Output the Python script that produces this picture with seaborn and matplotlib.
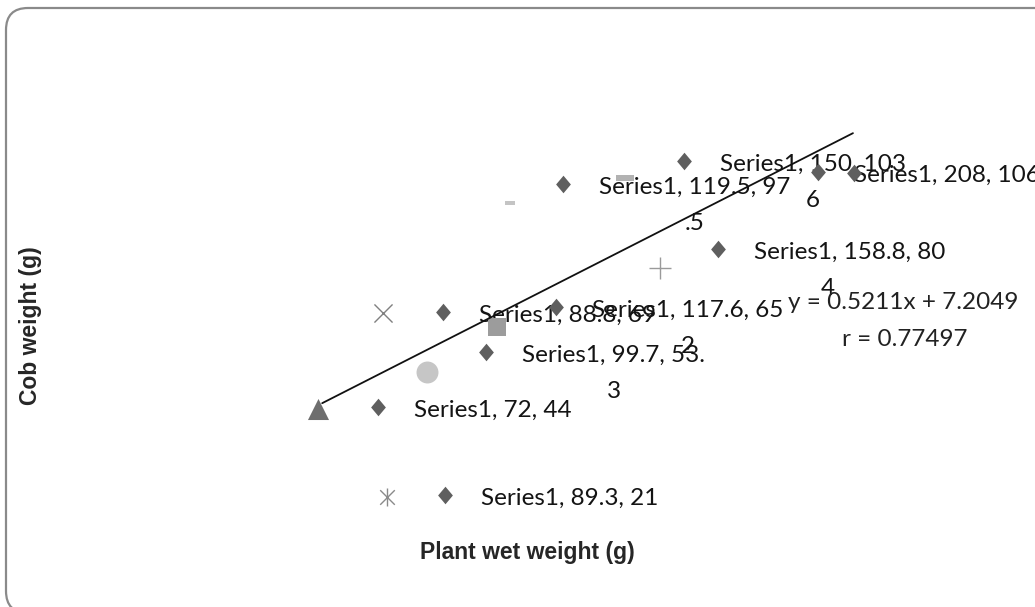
import matplotlib
matplotlib.use("Agg")
import matplotlib.pyplot as plt
import matplotlib.patches as mpatches
import matplotlib.transforms as mtrans
import pandas as pd
import seaborn as sns

# ---- data (positions, in axis units) ----
s1_x = [71.9, 89.0, 88.5, 99.5, 117.3, 119.1, 150.0, 158.7, 184.2, 193.4]
s1_y = [44.0, 21.0, 68.8, 58.4, 70.1, 102.2, 108.2, 85.3, 105.4, 105.1]
s1_labels = ["Series1, 72, 44", "Series1, 89.3, 21", "Series1, 88.8, 69",
             "Series1, 99.7, 53.\n3", "Series1, 117.6, 65\n2",
             "Series1, 119.5, 97\n.5", "Series1, 150, 103\n6",
             "Series1, 158.8, 80\n4" + " " * 7, "Series1, 208, 106", ""]

tri_x, tri_y = [56.6], [43.5]
circ_x, circ_y = [84.4], [53.1]
sq_x, sq_y = [102.3], [64.9]
xm_x, xm_y = [73.2], [68.5]
ast_x, ast_y = [74.2], [20.5]
plus_x, plus_y = [143.9], [80.3]
dash_x, dash_y = [105.6, 134.9], [97.3, 103.8]

trend_x = [57.7, 193.1]
trend_y = [45.0, 115.5]

eq_text = "y = 0.5211x + 7.2049"
r_text = "r = 0.77497"
x_label = "Plant wet weight (g)"
y_label = "Cob weight (g)"

# ---- style ----
sns.set_style("white")
plt.rcParams["font.family"] = ["Lato", "DejaVu Sans"]

fig = plt.figure(figsize=(10.35, 6.07), dpi=100)
ax = fig.add_axes([0, 0, 1, 1])
ax.set_xlim(-24.49, 239.54)
ax.set_ylim(-8.22, 150.27)
ax.set_axis_off()

# rounded chart border (right side runs off the picture)
border = mpatches.FancyBboxPatch((6, -6), 1064, 605,
                                 boxstyle="round,pad=0,rounding_size=22",
                                 transform=mtrans.IdentityTransform(),
                                 facecolor="none", edgecolor="#8a8a8a",
                                 linewidth=1.6, zorder=0)
fig.patches.append(border)

s1 = pd.DataFrame({"x": s1_x, "y": s1_y, "label": s1_labels})
diamond = [(-0.42, 0), (0, 0.5), (0.42, 0), (0, -0.5)]
sns.scatterplot(data=s1, x="x", y="y", marker=diamond, s=160,
                color="#5f5f5f", linewidth=0, ax=ax, zorder=3, legend=False)

for _, row in s1.iterrows():
    if row["label"]:
        ax.annotate(row["label"], (row["x"], row["y"]), xytext=(26, 5),
                    textcoords="offset points", ha="left", va="top",
                    multialignment="center", fontsize=17.5, linespacing=1.9,
                    color="#141414", zorder=2)

sns.scatterplot(x=tri_x, y=tri_y, marker="^", s=230, color="#6e6e6e",
                linewidth=0, ax=ax, zorder=3)
sns.scatterplot(x=circ_x, y=circ_y, marker="o", s=250, color="#c6c6c6",
                linewidth=0, ax=ax, zorder=3)
sns.scatterplot(x=sq_x, y=sq_y, marker="s", s=180, color="#9c9c9c",
                linewidth=0, ax=ax, zorder=3)
sns.scatterplot(x=xm_x, y=xm_y, marker="x", s=170, color="#808080",
                linewidth=1.0, ax=ax, zorder=3)
sns.scatterplot(x=ast_x, y=ast_y, marker="x", s=110, color="#8a8a8a",
                linewidth=1.0, ax=ax, zorder=3)
sns.scatterplot(x=ast_x, y=ast_y, marker="|", s=170, color="#8a8a8a",
                linewidth=1.0, ax=ax, zorder=3)
sns.scatterplot(x=plus_x, y=plus_y, marker="+", s=260, color="#9a9a9a",
                linewidth=1.0, ax=ax, zorder=3)
dash = [(-1, -0.3), (1, -0.3), (1, 0.3), (-1, 0.3)]
sns.scatterplot(x=dash_x[:1], y=dash_y[:1], marker=dash, s=55, color="#c4c4c4",
                linewidth=0, ax=ax, zorder=3)
sns.scatterplot(x=dash_x[1:], y=dash_y[1:], marker=dash, s=170, color="#b2b2b2",
                linewidth=0, ax=ax, zorder=3)

sns.lineplot(x=trend_x, y=trend_y, color="#111111", linewidth=1.3, ax=ax,
             zorder=5)

ax.text(0.8725, 0.502, eq_text, transform=ax.transAxes, ha="center",
        va="center", fontsize=17.5, color="#222222", zorder=2)
ax.text(0.8745, 0.440, r_text, transform=ax.transAxes, ha="center",
        va="center", fontsize=17.5, color="#222222", zorder=2)

fig.text(527 / 1035, 1 - 553 / 607, x_label, ha="center", va="center",
         fontsize=16.5, fontweight="bold", family=["Liberation Sans", "DejaVu Sans"])
fig.text(31 / 1035, 1 - 326 / 607, y_label, ha="center", va="center",
         rotation=90, fontsize=16.5, fontweight="bold",
         family=["Liberation Sans", "DejaVu Sans"])

fig.savefig("out.png", dpi=100)
